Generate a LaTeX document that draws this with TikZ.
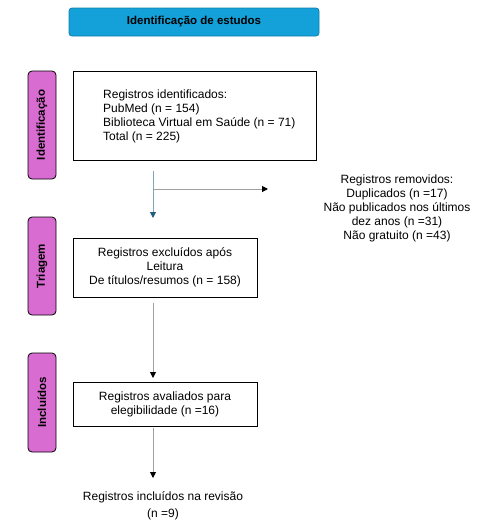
\documentclass[tikz,border=0pt]{standalone}
\usepackage{fontspec}
\setmainfont{Liberation Sans}
\usetikzlibrary{arrows.meta}
\definecolor{titlefill}{HTML}{14A0D8}
\definecolor{titledraw}{HTML}{1080B0}
\definecolor{sidefill}{HTML}{D96CD0}
\definecolor{linegray}{HTML}{A0A0A0}
\definecolor{tealhead}{HTML}{1F5F7F}
\definecolor{teallink}{HTML}{7FA6BC}
\begin{document}
\begin{tikzpicture}[x=1pt,y=-1pt,
  sidebox/.style={draw=black,fill=sidefill,rounded corners=4pt,line width=0.8pt,minimum width=28pt,inner sep=0pt},
  sidetext/.style={rotate=90,font=\fontsize{11.5}{13}\selectfont\bfseries},
  mainbox/.style={draw=black,line width=0.8pt,inner sep=0pt},
  bodytext/.style={font=\fontsize{12}{14}\selectfont,align=center,inner sep=0pt},
  conn/.style={draw=linegray,line width=1pt,-{Triangle[length=6pt,width=6pt,fill=black,color=black]}}
]
\useasboundingbox (0,0) rectangle (502,531);
% title
\node[draw=titledraw,fill=titlefill,rounded corners=3pt,line width=0.8pt,minimum width=250pt,minimum height=28pt,inner sep=0pt,font=\fontsize{11.5}{13}\selectfont\bfseries] (title) at (194,22) {Identificação de estudos};
% side boxes
\node[sidebox,minimum height=108pt] (s1) at (42,125) {};
\node[sidetext] (s1t) at (s1.center) {Identificação};
\node[sidebox,minimum height=98pt] (s2) at (42,266) {};
\node[sidetext] (s2t) at (s2.center) {Triagem};
\node[sidebox,minimum height=99pt] (s3) at (42,402.5) {};
\node[sidetext] (s3t) at (s3.center) {Incluídos};
% main boxes
\node[mainbox,minimum width=243pt,minimum height=89pt] (b1) at (194.5,115.5) {};
\node[bodytext,align=left,anchor=west] (b1t) at (103,116) {Registros identificados:\\PubMed (n = 154)\\Biblioteca Virtual em Saúde (n = 71)\\Total (n = 225)};
\node[mainbox,minimum width=184pt,minimum height=59pt] (b2) at (165,267.5) {};
\node[bodytext] (b2t) at (b2.center) {Registros excluídos após\\Leitura\\De títulos/resumos (n = 158)};
\node[mainbox,minimum width=184pt,minimum height=44pt] (b3) at (165,404) {};
\node[bodytext] (b3t) at (b3.center) {Registros avaliados para\\elegibilidade (n =16)};
\node[bodytext,font=\fontsize{12}{17}\selectfont] (fin) at (163,505.5) {Registros incluídos na revisão\\(n =9)};
\node[bodytext] (rem) at (397,208) {Registros removidos:\\Duplicados (n =17)\\Não publicados nos últimos\\dez anos (n =31)\\Não gratuito (n =43)};
% connectors
\coordinate (a0) at (153,171);
\coordinate (a1) at (153,189);
\coordinate (a2) at (268,189);
\coordinate (a3) at (153,218);
\draw[draw=teallink,line width=1pt,-{Triangle[length=6pt,width=6pt,color=tealhead]}] (a0) -- (a3);
\draw[conn] (a1) -- (a2);
\coordinate (c0) at (153,303);
\coordinate (c1) at (153,378);
\draw[conn] (c0) -- (c1);
\coordinate (d0) at (153,428);
\coordinate (d1) at (153,478);
\draw[conn] (d0) -- (d1);
\end{tikzpicture}
\end{document}
